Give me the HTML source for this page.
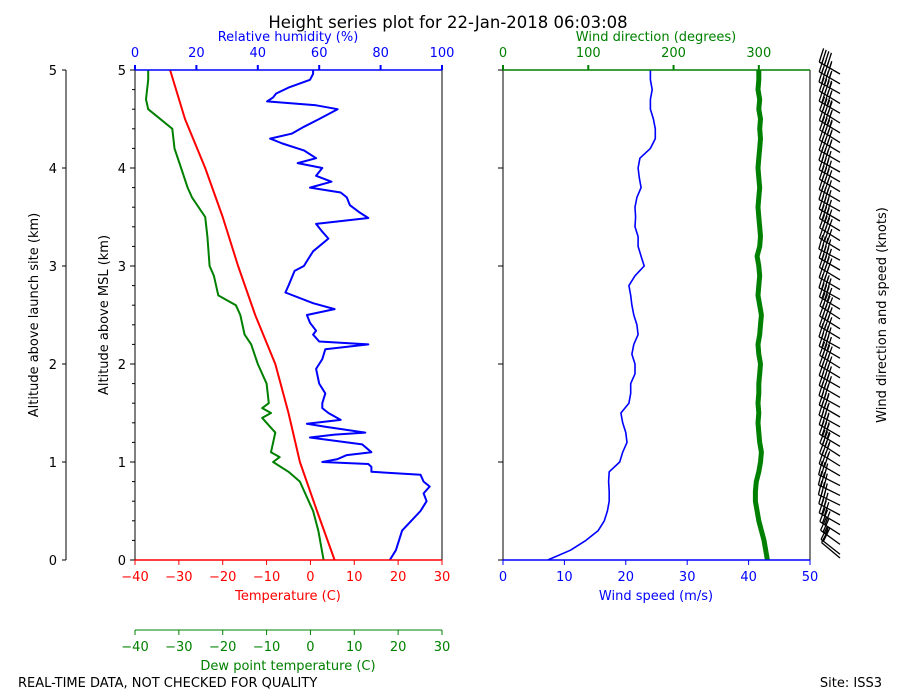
<!DOCTYPE html>
<html><head><meta charset="utf-8"><style>
body{margin:0;background:#fff}
svg{display:block;font-family:"DejaVu Sans","Liberation Sans",sans-serif}
</style></head><body>
<svg id="c" width="900" height="700" viewBox="0 0 900 700"></svg>
<script>
// ---- data ----
const tempAlt = [0,0.5,1,1.5,2,2.5,3,3.5,4,4.5,5];
const tempVals = [5.5,1.5,-2.4,-5,-8,-12.6,-16.5,-20,-24,-28.6,-32];
const dewAlt = [0,0.3,0.5,0.8,0.9,1.0,1.05,1.1,1.3,1.45,1.5,1.55,1.6,1.8,2.0,2.2,2.3,2.5,2.6,2.7,2.9,3.0,3.3,3.5,3.7,3.8,4.0,4.2,4.4,4.6,4.7,4.9,5.0];
const dewVals = [3,1.8,0.6,-2.4,-5,-8.5,-7,-9,-8,-11,-9,-11,-9.5,-10,-12,-13.5,-15,-16,-17,-21,-22,-23,-23.5,-24,-27,-28,-29.5,-31,-31.5,-37,-37.5,-37,-37];
const rhAlt = [0,0.1,0.2,0.3,0.4,0.5,0.6,0.68,0.75,0.8,0.87,0.9,0.95,0.98,1.0,1.03,1.07,1.1,1.18,1.25,1.28,1.3,1.36,1.39,1.43,1.5,1.55,1.6,1.7,1.8,1.95,2.05,2.15,2.2,2.23,2.3,2.34,2.42,2.5,2.56,2.62,2.73,2.8,2.95,3.0,3.05,3.15,3.28,3.35,3.43,3.49,3.55,3.62,3.7,3.75,3.8,3.86,3.92,4.0,4.05,4.1,4.18,4.25,4.3,4.35,4.42,4.5,4.6,4.64,4.68,4.72,4.76,4.82,4.9,4.96,5.0];
const rhVals = [83,85,86,87,90,93,95,94,96,94,93,77,77,76,61,66,69,77,74,57,65,75,62,56,67,63,61,61,62,60,59,61,62,76,60,58,59,57,56,65,58,49,50,52,55,56,58,63,61,59,76,73,70,69,67,57,64,59,61,53,59,55,48,44,51,55,60,66,59,43,45,46,50,57,58,58];
const windAlt = [0,0.1,0.2,0.3,0.4,0.5,0.6,0.7,0.8,0.9,1.0,1.1,1.2,1.3,1.4,1.5,1.6,1.7,1.8,1.9,2.0,2.1,2.2,2.3,2.4,2.5,2.6,2.7,2.8,2.9,3.0,3.1,3.2,3.3,3.4,3.5,3.6,3.7,3.8,3.9,4.0,4.1,4.2,4.3,4.4,4.5,4.6,4.7,4.8,4.9,5.0];
const windSpeed = [7.3,11,13.5,15.5,16.5,17,17.3,17.3,17.2,17.3,19,19.5,20.2,20,19.5,19.2,20.5,20.8,20.8,21.5,21.5,21,21.3,22,21.8,21.3,21,20.8,20.5,21.5,23,22.5,22,22,21.5,21.6,21.5,21.8,22.5,22.2,22,22.3,24,24.8,24.8,24.5,24,24,24.3,24,24];
const windDir = [310,308,306,303,300,298,296,296,297,300,302,303,301,300,299,300,299,300,300,301,302,300,299,301,302,303,301,299,300,301,300,298,301,302,301,300,299,300,301,300,299,300,301,302,301,302,300,301,299,300,300];
const altTicks = [0,1,2,3,4,5];
const tempTicks = [-40,-30,-20,-10,0,10,20,30];
const rhTicks = [0,20,40,60,80,100];
const spdTicks = [0,10,20,30,40,50];
const dirTicks = [0,100,200,300];

// ---- scales ----
const Y0=560,Y1=70;
const y=a=>Y0-(a/5)*(Y0-Y1);
const LX0=135,LX1=442,RX0=503,RX1=810;
const xT=v=>LX0+(v+40)/70*(LX1-LX0);
const xRH=v=>LX0+v/100*(LX1-LX0);
const xS=v=>RX0+v/50*(RX1-RX0);
const xD=v=>RX0+v/360*(RX1-RX0);

const svg=document.getElementById('c');
const NS='http://www.w3.org/2000/svg';
function el(tag,attrs,parent){const e=document.createElementNS(NS,tag);for(const k in attrs)e.setAttribute(k,attrs[k]);(parent||svg).appendChild(e);return e;}
function txt(s,x0,y0,size,color,anchor,rot){const t=el('text',{x:x0,y:y0,'font-size':size,fill:color,'text-anchor':anchor||'middle'});if(rot)t.setAttribute('transform',`rotate(${rot} ${x0} ${y0})`);t.textContent=s;return t;}

let t=txt('Height series plot for 22-Jan-2018 06:03:08',448,28,16.5,'#000');

t=txt('REAL-TIME DATA, NOT CHECKED FOR QUALITY',18,687,13,'#000','start');

t=txt('Site: ISS3',882,687,13,'#000','end');


let g=el('g',{});

el('line',{x1:66,y1:Y1,x2:66,y2:Y0,stroke:'#000'},g);
altTicks.forEach(a=>{el('line',{x1:62,y1:y(a),x2:66,y2:y(a),stroke:'#000'},g);const q=el('text',{x:57,y:y(a)+5,'font-size':13,'text-anchor':'end'},g);q.textContent=a;});
t=txt('Altitude above launch site (km)',38,315,13,'#000','middle',-90);


g=el('g',{});

altTicks.forEach(a=>{el('line',{x1:LX0-5,y1:y(a),x2:LX0,y2:y(a),stroke:'#000'},g);const q=el('text',{x:LX0-9,y:y(a)+5,'font-size':13,'text-anchor':'end'},g);q.textContent=a;});
for(let a=0.2;a<5;a+=0.2){if(Math.abs(a-Math.round(a))>0.01)el('line',{x1:LX0-3,y1:y(a),x2:LX0,y2:y(a),stroke:'#000'},g);}
t=txt('Altitude above MSL (km)',108,315,13,'#000','middle',-90);


g=el('g',{});

tempTicks.forEach(v=>{el('line',{x1:xT(v),y1:Y0,x2:xT(v),y2:Y0+5,stroke:'red'},g);const q=el('text',{x:xT(v),y:581,'font-size':13,'fill':'red','text-anchor':'middle'},g);q.textContent=v<0?'\u2212'+(-v):v;});
t=txt('Temperature (C)',288,600,13,'red');


g=el('g',{});

el('line',{x1:LX0,y1:630,x2:LX1,y2:630,stroke:'green'},g);
tempTicks.forEach(v=>{el('line',{x1:xT(v),y1:630,x2:xT(v),y2:635,stroke:'green'},g);const q=el('text',{x:xT(v),y:651,'font-size':13,'fill':'green','text-anchor':'middle'},g);q.textContent=v<0?'\u2212'+(-v):v;});
t=txt('Dew point temperature (C)',288,670,13,'green');


g=el('g',{});

rhTicks.forEach(v=>{el('line',{x1:xRH(v),y1:Y1-5,x2:xRH(v),y2:Y1,stroke:'blue','stroke-width':2},g);const q=el('text',{x:xRH(v),y:57,'font-size':13,'fill':'blue','text-anchor':'middle'},g);q.textContent=v;});
t=txt('Relative humidity (%)',288,41,13,'blue');


g=el('g',{});

altTicks.forEach(a=>el('line',{x1:RX0-5,y1:y(a),x2:RX0,y2:y(a),stroke:'#000'},g));
g=el('g',{});

spdTicks.forEach(v=>{el('line',{x1:xS(v),y1:Y0,x2:xS(v),y2:Y0+5,stroke:'blue'},g);const q=el('text',{x:xS(v),y:581,'font-size':13,'fill':'blue','text-anchor':'middle'},g);q.textContent=v;});
t=txt('Wind speed (m/s)',656,600,13,'blue');

g=el('g',{});

dirTicks.forEach(v=>{el('line',{x1:xD(v),y1:Y1-5,x2:xD(v),y2:Y1,stroke:'green','stroke-width':2},g);const q=el('text',{x:xD(v),y:57,'font-size':13,'fill':'green','text-anchor':'middle'},g);q.textContent=v;});
t=txt('Wind direction (degrees)',656,41,13,'green');

t=txt('Wind direction and speed (knots)',886,315,13,'#000','middle',-90);


function path(xs,as,fx,color,w,name){const d=as.map((a,i)=>(i?'L':'M')+fx(xs[i]).toFixed(1)+','+y(a).toFixed(1)).join('');const p=el('path',{d,fill:'none',stroke:color,'stroke-width':w,'stroke-linejoin':'round'});

}
path(tempVals,tempAlt,xT,'red',2,'temperature-line');
path(dewVals,dewAlt,xT,'green',2,'dewpoint-line');
path(rhVals,rhAlt,xRH,'blue',2,'humidity-line');
path(windSpeed,windAlt,xS,'blue',1.6,'wind-speed-line');
path(windDir,windAlt,xD,'green',5,'wind-direction-line');

function frame(x0,x1,top,bot,name){const f=el('g',{});


el('line',{x1:x0,y1:Y1,x2:x0,y2:Y0,stroke:'#000'},f);el('line',{x1:x1,y1:Y1,x2:x1,y2:Y0,stroke:'#000'},f);
el('line',{x1:x0,y1:Y1,x2:x1,y2:Y1,stroke:top,'stroke-width':1.5},f);el('line',{x1:x0,y1:Y0,x2:x1,y2:Y0,stroke:bot,'stroke-width':1.5},f);}
frame(LX0,LX1,'blue','red','thermo-panel-frame');
frame(RX0,RX1,'green','blue','wind-panel-frame');

const bg=el('g',{stroke:'#000','stroke-width':1.3,fill:'#000'});


windAlt.forEach((a,i)=>{
  const th=windDir[i]*Math.PI/180, ux=Math.sin(th), uy=-Math.cos(th);
  const bx=840, by=y(a)+ (i===0?-2:4), L=24;
  const tx=bx+ux*L, ty=by+uy*L;
  el('line',{x1:bx,y1:by,x2:tx,y2:ty},bg);
  const px=-uy, py=ux;
  const kt=windSpeed[i]*1.944;
  let n=Math.floor(kt/10), half=(kt%10)>=5;
  for(let k=0;k<n&&k<6;k++){const sx=tx-ux*k*3, sy=ty-uy*k*3;el('line',{x1:sx,y1:sy,x2:sx+px*14+ux*3,y2:sy+py*14+uy*3},bg);}
  if(half){const k=Math.min(n,6);const sx=tx-ux*k*3, sy=ty-uy*k*3;el('line',{x1:sx,y1:sy,x2:sx+px*7+ux*1.5,y2:sy+py*7+uy*1.5},bg);}
});
</script>
</body></html>
